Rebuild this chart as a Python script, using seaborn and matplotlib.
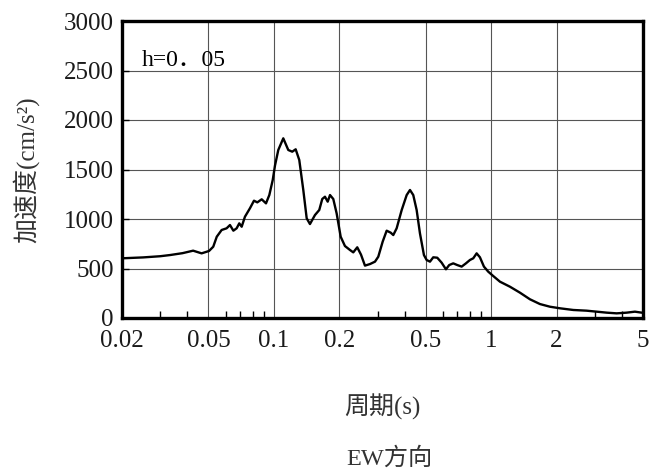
import numpy as np
import pandas as pd
import matplotlib
matplotlib.use("Agg")
import matplotlib.pyplot as plt
import matplotlib.ticker as mticker
import seaborn as sns

# ---- data ----
period = [0.020, 0.025, 0.030, 0.0333, 0.038, 0.0425, 0.0465, 0.0503, 0.0526, 0.0546,
          0.0575, 0.0606, 0.0628, 0.0651, 0.0674, 0.0693, 0.0711, 0.0736, 0.0776,
          0.0810, 0.0839, 0.0879, 0.0920, 0.0953, 0.0988, 0.1012, 0.1048, 0.1105,
          0.1165, 0.1215, 0.1260, 0.1309, 0.1366, 0.1416, 0.1466, 0.1546, 0.1618,
          0.1670, 0.1719, 0.1769, 0.1813, 0.1877, 0.1945, 0.2030, 0.2124, 0.2240,
          0.2320, 0.2420, 0.2518, 0.2626, 0.2770, 0.2920, 0.3024, 0.3168, 0.3305,
          0.3449, 0.3545, 0.3674, 0.3876, 0.4086, 0.4232, 0.4381, 0.4541, 0.4703,
          0.4906, 0.5048, 0.5229, 0.5415, 0.5649, 0.5918, 0.6194, 0.6414, 0.6692,
          0.6982, 0.7316, 0.7656, 0.7988, 0.8274, 0.8576, 0.8882, 0.9266, 0.9698,
          1.0226, 1.0978, 1.2208, 1.357, 1.509, 1.677, 1.865, 2.074, 2.388, 2.750,
          3.058, 3.402, 3.782, 4.204, 4.590, 4.930, 5.0]
accel = [603, 612, 624, 636, 655, 680, 653, 677, 720, 821,
         889, 906, 939, 882, 906, 956, 922, 1023, 1108,
         1185, 1168, 1199, 1158, 1242, 1394, 1540, 1697, 1815,
         1697, 1680, 1704, 1596, 1293, 1007, 949, 1040, 1091,
         1202, 1225, 1175, 1242, 1202, 1057, 821, 727, 687,
         663, 714, 640, 529, 545, 569, 619, 771, 882,
         862, 838, 906, 1091, 1242, 1293, 1242, 1091, 855,
         636, 586, 569, 613, 609, 559, 492, 535, 552,
         535, 519, 552, 586, 603, 653, 613, 519, 468,
         424, 367, 316, 256, 189, 141, 114, 98, 81, 74,
         64, 54, 47, 54, 64, 54, 55]

x_ticks = [0.02, 0.05, 0.1, 0.2, 0.5, 1, 2, 5]
x_tick_labels = ["0.02", "0.05", "0.1", "0.2", "0.5", "1", "2", "5"]
y_ticks = [0, 500, 1000, 1500, 2000, 2500, 3000]

df = pd.DataFrame({"period": period, "accel": accel})

sns.set_style("white")
plt.rcParams["font.family"] = ["Liberation Serif", "Noto Sans CJK SC", "DejaVu Sans"]

fig = plt.figure(figsize=(6.51, 4.75), dpi=100)
ax = fig.add_axes([122 / 651, 1 - 318 / 475, (643 - 122) / 651, (318 - 21) / 475])

sns.lineplot(data=df, x="period", y="accel", ax=ax, color="black",
             linewidth=1.7, estimator=None, sort=False)

ax.set_xscale("log")
ax.set_xlim(0.02, 5)
ax.set_ylim(0, 3000)

ax.xaxis.set_major_locator(mticker.FixedLocator(x_ticks))
ax.xaxis.set_major_formatter(mticker.FixedFormatter(x_tick_labels))
ax.xaxis.set_minor_locator(mticker.LogLocator(base=10, subs=(3, 4, 6, 7, 8, 9)))
ax.xaxis.set_minor_formatter(mticker.NullFormatter())
ax.yaxis.set_major_locator(mticker.FixedLocator(y_ticks))

ax.grid(True, which="major", color="#555555", linewidth=0.8)
ax.set_axisbelow(True)

ax.tick_params(axis="both", which="both", direction="in", colors="black",
               labelcolor="#1a1a1a", labelsize=18)
ax.tick_params(axis="x", which="major", length=0, pad=8.5)
ax.tick_params(axis="x", which="minor", length=5, width=1, bottom=True, top=False)
ax.tick_params(axis="y", which="major", length=5, width=1, left=True, right=False, pad=6)

for s in ax.spines.values():
    s.set_linewidth(2.4)
    s.set_color("black")

ax.set_ylabel("加速度(cm/s²)", fontsize=18, color="#333333")
ax.yaxis.set_label_coords(-0.158, 0.5)
ax.set_xlabel("周期(s)", fontsize=18, color="#333333")
ax.xaxis.set_label_coords(0.5, -0.255)

ax.text(0.038, 0.868, "h=0．05", transform=ax.transAxes, fontsize=17,
        ha="left", va="center", color="black")

fig.text(389 / 651, 1 - 458 / 475, "EW方向", fontsize=17.5, ha="center",
         va="center", color="#333333")

fig.savefig("out.png", dpi=100)
